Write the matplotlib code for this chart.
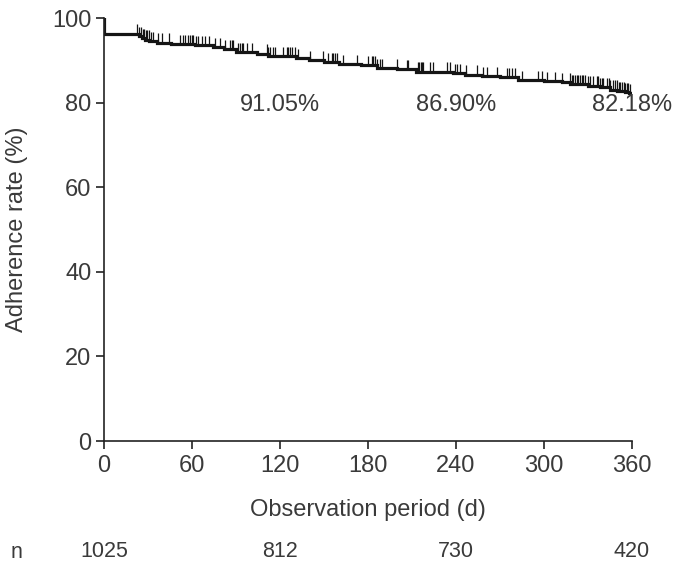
import matplotlib
matplotlib.use('Agg')
import matplotlib.pyplot as plt
import matplotlib.transforms as mtransforms
import numpy as np

# Kaplan-Meier style adherence curve (day, adherence %)
step_days = [0, 0, 24, 26, 28, 31, 36, 46, 62, 74, 82, 90, 104, 112, 131, 140, 150, 160, 175,
             186, 200, 213, 238, 246, 258, 270, 282, 300, 312, 318, 330, 338, 345, 350, 355, 358]
step_rate = [100, 96.3, 95.7, 95.3, 94.9, 94.5, 94.2, 93.9, 93.6, 93.1, 92.7, 92.0, 91.6, 91.05,
             90.5, 90.1, 89.5, 89.1, 88.8, 88.2, 87.9, 87.3, 86.9, 86.6, 86.2, 86.0, 85.4, 85.1,
             84.8, 84.4, 84.0, 83.6, 83.1, 82.7, 82.4, 82.18]

# censored patients (day)
censor_days = [22.3, 24.1, 25.0, 26.4, 27.5, 28.6, 29.5, 30.9, 32.0, 33.6, 37.1, 39.3, 44.3,
               51.8, 54.1, 55.2, 57.5, 58.6, 59.8, 60.9, 62.7, 64.3, 66.6, 68.9, 71.6, 75.7,
               79.1, 82.5, 85.9, 87.1, 88.2, 91.6, 92.8, 93.9, 95.0, 97.3, 100.7, 111.0, 112.0,
               113.2, 115.0, 116.6, 122.3, 124.6, 125.7, 126.9, 128.0, 130.3, 132.5, 140.5,
               149.6, 153.0, 155.3, 156.4, 157.6, 158.7, 163.2, 172.3, 180.3, 182.5, 183.7,
               184.8, 186.0, 188.2, 189.4, 199.6, 206.4, 207.6, 214.4, 215.1, 216.0, 216.9,
               217.8, 222.3, 224.6, 233.7, 236.0, 239.4, 240.5, 242.8, 246.9, 254.2, 258.7,
               261.0, 267.8, 274.6, 275.8, 278.0, 280.3, 284.9, 296.2, 298.5, 301.9, 307.6,
               312.2, 317.8, 319.0, 320.1, 321.2, 322.4, 323.5, 324.6, 325.8, 326.9, 328.0,
               330.3, 331.4, 333.7, 336.0, 337.1, 338.3, 339.4, 340.5, 342.8, 344.0, 345.1,
               347.3, 348.5, 349.6, 350.8, 351.9, 353.0, 354.2, 355.3, 356.4, 357.6, 358.7]

label_days = [120, 240, 360]
label_rates = [91.05, 86.90, 82.18]
risk_days = [0, 120, 240, 360]
risk_n = [1025, 812, 730, 420]

txt = '#3a3a3a'
plt.rcParams['font.family'] = ['Liberation Sans', 'DejaVu Sans']

fig = plt.figure(figsize=(6.86, 5.66), dpi=100)
ax = fig.add_axes([0.1516, 0.2208, 0.7697, 0.7473])

# survival curve, ending at day 360
xs = step_days + [360]
ys = step_rate + [step_rate[-1]]
ax.step(xs, ys, where='post', color='#151515', lw=2.3, solid_joinstyle='miter')

# censor ticks sitting on the curve
idx = np.searchsorted(step_days, censor_days, side='right') - 1
base = np.array(step_rate)[idx]
ax.vlines(censor_days, base, base + 2.2, color='#151515', lw=0.9)

for d, r in zip(label_days, label_rates):
    ax.text(d, 79.5, '%.2f%%' % r, ha='center', va='center', fontsize=17, color=txt)

ax.set_xlim(0, 360)
ax.set_ylim(0, 100)
ax.set_xticks(range(0, 361, 60))
ax.set_yticks(range(0, 101, 20))
ax.spines['top'].set_visible(False)
ax.spines['right'].set_visible(False)
for s in ['left', 'bottom']:
    ax.spines[s].set_linewidth(1.2)
    ax.spines[s].set_color('#222222')
ax.tick_params(length=6, width=1.2, color='#222222', labelsize=17, labelcolor=txt)
ax.tick_params(axis='x', pad=4)
ax.tick_params(axis='y', pad=3)

ax.set_xlabel('Observation period (d)', fontsize=17, color=txt)
ax.set_ylabel('Adherence rate (%)', fontsize=17, color=txt)
ax.xaxis.set_label_coords(0.5, -0.137)
ax.yaxis.set_label_coords(-0.144, 0.5)

# numbers at risk under the axis
trans = mtransforms.blended_transform_factory(ax.transData, ax.transAxes)
for d, n in zip(risk_days, risk_n):
    ax.text(d, -0.262, str(n), transform=trans, ha='center', va='center', fontsize=15.5, color=txt)
fig.text(16 / 686, 1 - 552 / 566, 'n', ha='center', va='center', fontsize=15.5, color=txt)

fig.savefig('out.png', dpi=100)
